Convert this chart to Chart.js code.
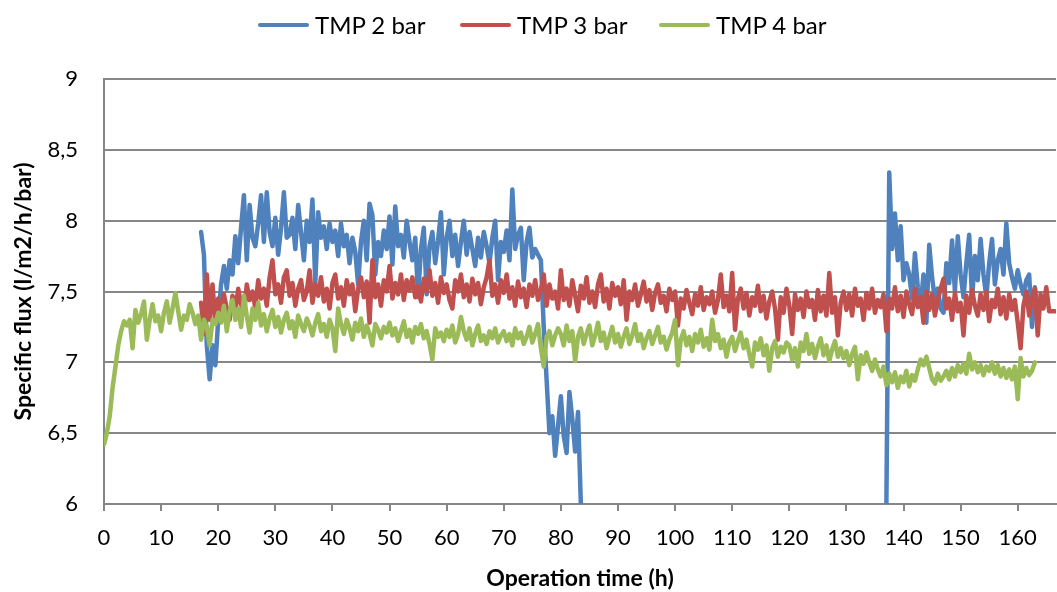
<!DOCTYPE html>
<html>
<head>
<meta charset="utf-8">
<script src="https://cdn.jsdelivr.net/npm/chart.js@4.4.0/dist/chart.umd.min.js"></script>
<style>
  html, body { margin: 0; padding: 0; background: #fff; }
  #wrap { position: relative; width: 1057px; height: 592px; }
  #fluxChart { position: absolute; left: 0; top: 0; }
  .leg { position: absolute; top: 11px; height: 28px; font: 24px Lato, sans-serif; color: #000; line-height: 28px; white-space: nowrap; }
  .leg i { position: absolute; left: 0; top: 12px; width: 51px; height: 4px; border-radius: 2px; }
  .leg span { position: absolute; left: 57px; top: 0; }
</style>
</head>
<body>
<div id="wrap">
  <canvas id="fluxChart" width="1057" height="592"></canvas>
  <div class="leg" style="left:258px"><i style="background:#4F81BD"></i><span>TMP 2 bar</span></div>
  <div class="leg" style="left:460px"><i style="background:#C0504D"></i><span>TMP 3 bar</span></div>
  <div class="leg" style="left:659px"><i style="background:#9BBB59"></i><span>TMP 4 bar</span></div>
</div>
<script>
// Sampling step of the readings (h)
var STEP = 0.5;
var X_MAX = 166.7;

// TMP 4 bar, from 0 h
var TMP4_START = 0;
var TMP4 = [
  6.42, 6.50, 6.62, 6.82, 6.97, 7.12, 7.22, 7.29, 7.26, 7.30, 7.10, 7.37, 7.28, 7.34, 7.43, 7.16, 7.30, 7.41, 7.29, 7.33,
  7.22, 7.35, 7.43, 7.28, 7.38, 7.49, 7.36, 7.23, 7.33, 7.30, 7.41, 7.35, 7.27, 7.33, 7.16, 7.30, 7.25, 7.12, 7.30, 7.27,
  7.35, 7.28, 7.40, 7.22, 7.36, 7.44, 7.30, 7.38, 7.25, 7.47, 7.33, 7.21, 7.38, 7.30, 7.42, 7.26, 7.34, 7.22, 7.31, 7.37,
  7.25, 7.32, 7.21, 7.30, 7.35, 7.24, 7.29, 7.18, 7.33, 7.27, 7.22, 7.31, 7.26, 7.19, 7.28, 7.34, 7.22, 7.27, 7.18, 7.30,
  7.24, 7.08, 7.38, 7.27, 7.20, 7.30, 7.24, 7.16, 7.28, 7.22, 7.31, 7.18, 7.26, 7.20, 7.12, 7.27, 7.23, 7.17, 7.25, 7.21,
  7.28, 7.19, 7.24, 7.15, 7.22, 7.29, 7.18, 7.23, 7.14, 7.25, 7.20, 7.27, 7.17, 7.22, 7.13, 7.02, 7.24, 7.18, 7.21, 7.15,
  7.23, 7.18, 7.26, 7.14, 7.20, 7.32, 7.22, 7.16, 7.24, 7.12, 7.20, 7.26, 7.15, 7.19, 7.13, 7.22, 7.17, 7.24, 7.14, 7.19,
  7.22, 7.15, 7.20, 7.12, 7.24, 7.17, 7.21, 7.13, 7.18, 7.25, 7.14, 7.20, 7.27, 7.10, 6.97, 7.18, 7.22, 7.12, 7.19, 7.24,
  7.20, 7.12, 7.26, 7.15, 7.22, 7.01, 7.18, 7.24, 7.13, 7.20, 7.26, 7.12, 7.19, 7.28, 7.15, 7.21, 7.10, 7.18, 7.25, 7.14,
  7.20, 7.11, 7.18, 7.24, 7.13, 7.19, 7.27, 7.15, 7.20, 7.10, 7.17, 7.22, 7.13, 7.19, 7.25, 7.14, 7.18, 7.09, 7.16, 7.21,
  7.30, 6.98, 7.16, 7.22, 7.12, 7.18, 7.08, 7.20, 7.14, 7.23, 7.11, 7.17, 7.09, 7.30, 7.15, 7.20, 7.10, 7.16, 7.04, 7.14,
  7.18, 7.08, 7.15, 7.21, 7.10, 7.16, 7.06, 6.97, 7.14, 7.09, 7.17, 7.05, 7.12, 6.94, 7.10, 7.15, 7.04, 7.11, 7.07, 7.14,
  7.12, 7.02, 7.10, 6.97, 7.14, 7.08, 7.20, 7.06, 7.13, 7.03, 7.11, 7.17, 7.05, 7.12, 7.01, 7.09, 7.15, 7.04, 7.10, 7.03,
  7.08, 6.98, 7.06, 7.11, 6.88, 7.05, 6.99, 7.07, 7.00, 6.94, 7.02, 6.95, 6.90, 6.97, 6.84, 6.92, 6.86, 6.93, 6.82, 6.90,
  6.86, 6.94, 6.83, 6.91, 6.87, 6.95, 7.02, 6.98, 7.04, 6.96, 6.88, 6.85, 6.92, 6.87, 6.90, 6.94, 6.88, 6.96, 6.90, 6.98,
  6.93, 6.99, 6.92, 7.06, 6.95, 7.00, 6.93, 6.98, 6.91, 6.97, 6.94, 7.00, 6.92, 6.98, 6.90, 6.96, 6.89, 6.95, 6.88, 6.97,
  6.74, 7.03, 6.90, 6.96, 6.91, 6.94, 7.00
];

// TMP 3 bar, from 17 h
var TMP3_START = 17;
var TMP3 = [
  7.42, 7.20, 7.62, 7.30, 7.55, 7.28, 7.45, 7.33, 7.48, 7.38, 7.30, 7.47, 7.36, 7.52, 7.41, 7.34, 7.55, 7.44, 7.50, 7.38,
  7.58, 7.45, 7.52, 7.40, 7.60, 7.72, 7.48, 7.55, 7.42, 7.60, 7.65, 7.47, 7.56, 7.40, 7.52, 7.58, 7.44, 7.50, 7.65, 7.42,
  7.55, 7.47, 7.60, 7.43, 7.52, 7.38, 7.56, 7.62, 7.45, 7.53, 7.40, 7.58, 7.48, 7.55, 7.36, 7.52, 7.60, 7.46, 7.57, 7.28,
  7.72, 7.46, 7.55, 7.40, 7.58, 7.50, 7.68, 7.45, 7.56, 7.48, 7.62, 7.44, 7.58, 7.51, 7.60, 7.46, 7.54, 7.43, 7.59, 7.50,
  7.65, 7.47, 7.56, 7.42, 7.60, 7.49, 7.55, 7.44, 7.38, 7.58, 7.50, 7.62, 7.46, 7.55, 7.43, 7.59, 7.48, 7.56, 7.41, 7.53,
  7.60, 7.72, 7.47, 7.55, 7.42, 7.58, 7.49, 7.62, 7.45, 7.53, 7.40, 7.57, 7.46, 7.52, 7.39, 7.55, 7.47, 7.58, 7.44, 7.51,
  7.62, 7.40, 7.55, 7.45, 7.50, 7.38, 7.65, 7.44, 7.52, 7.40, 7.58, 7.47, 7.36, 7.54, 7.45, 7.60, 7.42, 7.50, 7.39, 7.55,
  7.62, 7.43, 7.52, 7.38, 7.56, 7.47, 7.53, 7.41, 7.58, 7.30, 7.50, 7.44, 7.55, 7.40, 7.48, 7.57, 7.43, 7.51, 7.37, 7.49,
  7.55, 7.42, 7.47, 7.36, 7.52, 7.44, 7.50, 7.26, 7.45, 7.38, 7.51, 7.42, 7.34, 7.48, 7.40, 7.53, 7.37, 7.46, 7.41, 7.50,
  7.35, 7.44, 7.62, 7.39, 7.47, 7.36, 7.63, 7.23, 7.45, 7.52, 7.38, 7.49, 7.33, 7.46, 7.40, 7.54, 7.36, 7.47, 7.31, 7.43,
  7.50, 7.38, 7.16, 7.46, 7.35, 7.52, 7.40, 7.20, 7.48, 7.37, 7.45, 7.32, 7.50, 7.39, 7.44, 7.30, 7.51, 7.36, 7.47, 7.33,
  7.63, 7.35, 7.46, 7.19, 7.42, 7.50, 7.37, 7.48, 7.33, 7.52, 7.40, 7.45, 7.30, 7.49, 7.38, 7.52, 7.35, 7.44, 7.39, 7.48,
  7.22, 7.45, 7.38, 7.53, 7.36, 7.47, 7.32, 7.50, 7.41, 7.34, 7.52, 7.39, 7.46, 7.28, 7.50, 7.37, 7.48, 7.33, 7.44, 7.52,
  7.59, 7.38, 7.45, 7.30, 7.49, 7.36, 7.42, 7.19, 7.47, 7.35, 7.51, 7.40, 7.33, 7.48, 7.37, 7.50, 7.29, 7.44, 7.39, 7.52,
  7.34, 7.46, 7.31, 7.48, 7.37, 7.44, 7.28, 7.10, 7.40, 7.50, 7.33, 7.45, 7.52, 7.19, 7.48, 7.38, 7.53, 7.36, 7.36, 7.36
];

// TMP 2 bar, first run from 17 h, second run from 137 h
var TMP2_A_START = 17;
var TMP2_A = [
  7.92, 7.76, 7.12, 6.88, 7.12, 6.98, 7.30, 7.55, 7.68, 7.52, 7.72, 7.62, 7.89, 7.70, 7.95, 8.18, 7.72, 8.11, 7.88, 7.82,
  7.98, 8.18, 7.85, 8.20, 7.92, 7.82, 8.02, 7.76, 7.95, 8.20, 7.88, 7.90, 8.02, 7.80, 8.11, 7.92, 7.72, 8.00, 7.85, 8.15,
  7.56, 8.06, 7.88, 7.96, 7.80, 7.98, 7.85, 7.93, 7.75, 7.98, 7.82, 7.90, 7.70, 7.88, 7.78, 7.55, 7.85, 8.00, 7.72, 8.12,
  8.04, 7.62, 7.85, 7.75, 7.93, 7.80, 8.03, 7.69, 8.10, 7.82, 7.90, 7.74, 8.00, 7.85, 7.72, 7.88, 7.46, 7.80, 7.95, 7.48,
  7.82, 7.92, 7.70, 7.86, 8.06, 7.62, 7.88, 8.00, 7.75, 7.90, 7.68, 7.85, 8.00, 7.76, 7.92, 7.80, 7.68, 7.88, 7.74, 7.92,
  7.82, 7.70, 7.88, 8.00, 7.58, 7.85, 7.78, 7.93, 7.72, 8.22, 7.80, 7.90, 7.95, 7.58, 7.85, 7.95, 7.74, 7.80, 7.76, 7.72,
  7.25, 6.88, 6.50, 6.62, 6.34, 6.55, 6.76, 6.48, 6.36, 6.79, 6.60, 6.37, 6.65, 6.00
];
var TMP2_B_START = 137;
var TMP2_B = [
  6.00, 8.34, 7.80, 8.05, 7.72, 7.96, 7.58, 7.70, 7.62, 7.45,
  7.77, 7.53, 7.40, 7.62, 7.28, 7.83, 7.60, 7.44, 7.52, 7.38,
  7.35, 7.70, 7.56, 7.86, 7.50, 7.89, 7.62, 7.46, 7.70, 7.90,
  7.44, 7.75, 7.58, 7.87, 7.62, 7.46, 7.70, 7.87, 7.55, 7.72,
  7.80, 7.62, 7.98, 7.70, 7.60, 7.52, 7.65, 7.55, 7.48, 7.58,
  7.62, 7.25, 7.53, 7.35
];

var GRID = '#868686';

function toPoints(start, values) {
  return values.map(function (v, i) { return { x: start + i * STEP, y: v }; });
}

// gap between the two TMP 2 bar runs
var tmp2Points = toPoints(TMP2_A_START, TMP2_A)
  .concat([{ x: 110, y: null }])
  .concat(toPoints(TMP2_B_START, TMP2_B));

function series(label, data, color, order) {
  return {
    label: label, data: data, borderColor: color, backgroundColor: color,
    borderWidth: 4.5, pointRadius: 0, tension: 0, spanGaps: false,
    borderJoinStyle: 'round', borderCapStyle: 'round', order: order
  };
}

Chart.defaults.font.family = 'Lato, sans-serif';
Chart.defaults.color = '#000';

new Chart(document.getElementById('fluxChart').getContext('2d'), {
  type: 'line',
  data: {
    datasets: [
      series('TMP 2 bar', tmp2Points, '#4F81BD', 3),
      series('TMP 3 bar', toPoints(TMP3_START, TMP3), '#C0504D', 2),
      series('TMP 4 bar', toPoints(TMP4_START, TMP4), '#9BBB59', 1)
    ]
  },
  options: {
    responsive: false,
    animation: false,
    layout: { padding: { top: 79, right: 1, left: 0, bottom: 0 } },
    plugins: { legend: { display: false }, tooltip: { enabled: false } },
    scales: {
      x: {
        type: 'linear', min: 0, max: X_MAX,
        ticks: {
          stepSize: 10, includeBounds: false, autoSkip: false, maxRotation: 0,
          font: { size: 22 }, color: '#000', padding: 14,
          callback: function (v) { return String(v); }
        },
        afterBuildTicks: function (s) {
          s.ticks = s.ticks.filter(function (t) { return t.value % 10 === 0; });
        },
        grid: { drawOnChartArea: false, drawTicks: true, tickLength: 7, color: GRID, lineWidth: 2 },
        border: { color: GRID, width: 2 },
        title: { display: true, text: 'Operation time (h)', font: { size: 23, weight: 'bold' }, color: '#000', padding: 0 },
        afterFit: function (s) { s.height = 88; }
      },
      y: {
        min: 6, max: 9,
        ticks: {
          stepSize: 0.5, font: { size: 22 }, color: '#000', padding: 26,
          callback: function (v) { return String(v).replace('.', ','); }
        },
        grid: { color: GRID, lineWidth: 2, drawTicks: false },
        border: { color: GRID, width: 2 },
        title: { display: true, text: 'Specific flux (l/m2/h/bar)', font: { size: 23, weight: 'bold' }, color: '#000', padding: { top: 10, bottom: 0 } },
        afterFit: function (s) { s.width = 104; }
      }
    }
  }
});
</script>
</body>
</html>
